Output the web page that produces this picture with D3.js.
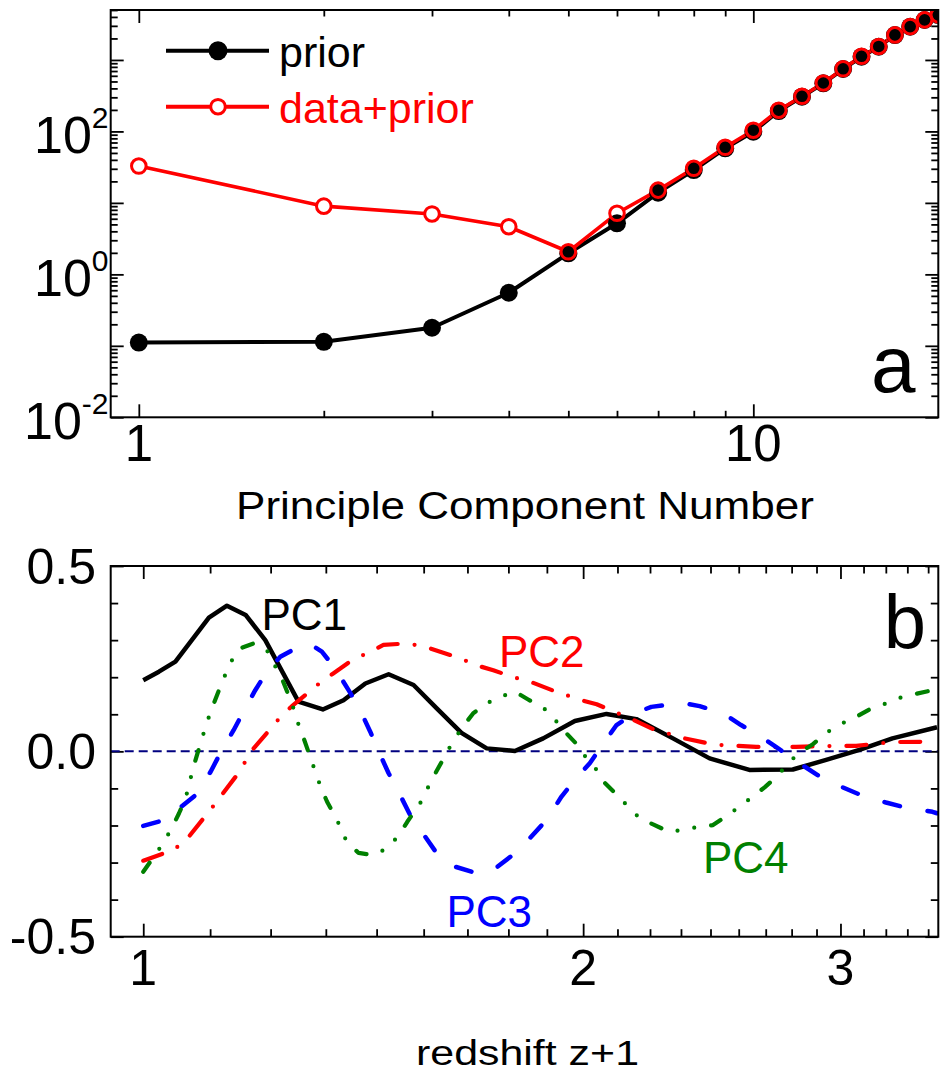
<!DOCTYPE html>
<html>
<head>
<meta charset="utf-8">
<script src="https://cdn.jsdelivr.net/npm/d3@7"></script>
<style>
  body { margin: 0; background: #fff; }
  svg { display: block; }
  text { font-family: "Liberation Sans", Arial, Helvetica, sans-serif; }
</style>
</head>
<body>
<svg id="chart" width="942" height="1078"></svg>
<script>
// ---------- panel a: eigenvalue spectrum ----------
const pcNumber = [1, 2, 3, 4, 5, 6, 7, 8, 9, 10, 11, 12, 13, 14, 15, 16, 17, 18, 19, 20];
const priorValues = [0.111, 0.114, 0.179, 0.553, 1.97, 5.18, 13.9, 28.8, 58, 99,
                     193, 306, 471, 747, 1110, 1531, 2232, 2917, 3622, 4253];
const dataPriorValues = [32.8, 9.0, 7.0, 4.64, 2.07, 7.15, 15.1, 30.5, 60, 104,
                         198, 310, 476, 752, 1125, 1545, 2240, 2930, 3640, 4280];
const seriesNamesA = ["prior", "data+prior"];
const yLabelsA = [{ value: 1e2, exp: "2" }, { value: 1e0, exp: "0" }, { value: 1e-2, exp: "-2" }];
const xLabelsA = [1, 10];

// ---------- panel b: principal components vs redshift ----------
const pc1Redshift = [1.000, 1.025, 1.052, 1.109, 1.141, 1.175, 1.212, 1.277, 1.327, 1.371,
                     1.419, 1.472, 1.531, 1.588, 1.651, 1.718, 1.796, 1.878, 1.974, 2.075,
                     2.175, 2.304, 2.441, 2.599, 2.783, 2.933, 3.091, 3.256, 3.493];
const pc1Weight = [0.192, 0.215, 0.242, 0.361, 0.393, 0.368, 0.300, 0.134, 0.113, 0.138,
                   0.183, 0.208, 0.179, 0.116, 0.050, 0.008, 0.001, 0.035, 0.082, 0.101,
                   0.087, 0.035, -0.019, -0.050, -0.049, -0.023, 0.004, 0.035, 0.065];

const pc2Redshift = [1.000, 1.049, 1.072, 1.116, 1.159, 1.190, 1.238, 1.264, 1.324, 1.349,
                     1.385, 1.460, 1.511, 1.554, 1.648, 1.687, 1.736, 1.791, 1.834, 1.913,
                     1.995, 2.043, 2.162, 2.233, 2.347, 2.460, 2.627, 2.717, 2.797, 2.902,
                     3.075, 3.255, 3.493];
const pc2Weight = [-0.295, -0.266, -0.235, -0.149, -0.064, 0.008, 0.087, 0.122, 0.188, 0.210,
                   0.242, 0.287, 0.291, 0.284, 0.251, 0.233, 0.219, 0.200, 0.190, 0.162,
                   0.138, 0.127, 0.086, 0.060, 0.035, 0.018, 0.012, 0.011, 0.012, 0.014,
                   0.015, 0.025, 0.026];

const pc3Redshift = [1.000, 1.030, 1.055, 1.086, 1.112, 1.129, 1.153, 1.171, 1.193, 1.215,
                     1.241, 1.277, 1.301, 1.325, 1.353, 1.382, 1.404, 1.430, 1.449, 1.472,
                     1.495, 1.523, 1.551, 1.588, 1.622, 1.691, 1.736, 1.796, 1.834, 1.888,
                     1.933, 1.974, 2.021, 2.064, 2.108, 2.169, 2.227, 2.335, 2.403, 2.493,
                     2.565, 2.648, 2.710, 2.812, 2.894, 3.010, 3.099, 3.223, 3.326, 3.468, 3.493];
const pc3Weight = [-0.201, -0.187, -0.158, -0.118, -0.055, -0.005, 0.057, 0.107, 0.165, 0.215,
                   0.255, 0.282, 0.289, 0.269, 0.224, 0.165, 0.120, 0.053, 0.000, -0.059,
                   -0.109, -0.172, -0.217, -0.275, -0.307, -0.329, -0.320, -0.275, -0.239, -0.185,
                   -0.122, -0.077, -0.032, 0.020, 0.071, 0.103, 0.120, 0.131, 0.122, 0.103,
                   0.071, 0.039, 0.012, -0.032, -0.064, -0.097, -0.118, -0.138, -0.152, -0.163, -0.167];

const pc4Redshift = [1.000, 1.017, 1.031, 1.045, 1.058, 1.069, 1.082, 1.091, 1.106, 1.116,
                     1.129, 1.147, 1.165, 1.190, 1.215, 1.229, 1.244, 1.264, 1.277, 1.289,
                     1.308, 1.322, 1.336, 1.357, 1.378, 1.404, 1.437, 1.468, 1.495, 1.516,
                     1.547, 1.576, 1.596, 1.617, 1.648, 1.682, 1.736, 1.796, 1.834, 1.888,
                     1.918, 1.940, 1.977, 2.011, 2.043, 2.069, 2.106, 2.147, 2.187, 2.233,
                     2.290, 2.340, 2.403, 2.454, 2.506, 2.559, 2.613, 2.662, 2.717, 2.768,
                     2.819, 2.874, 2.933, 3.010, 3.075, 3.143, 3.223, 3.308, 3.468, 3.493];
const pc4Weight = [-0.325, -0.284, -0.250, -0.210, -0.167, -0.127, -0.044, 0.004, 0.080, 0.123,
                   0.174, 0.239, 0.278, 0.291, 0.273, 0.235, 0.197, 0.129, 0.073, 0.030,
                   -0.042, -0.094, -0.136, -0.185, -0.244, -0.274, -0.280, -0.262, -0.228, -0.190,
                   -0.140, -0.076, -0.037, 0.004, 0.057, 0.103, 0.140, 0.161, 0.140, 0.111,
                   0.080, 0.056, 0.022, -0.019, -0.050, -0.085, -0.115, -0.149, -0.181, -0.197,
                   -0.217, -0.212, -0.203, -0.199, -0.175, -0.149, -0.122, -0.097, -0.066, -0.028,
                   -0.001, 0.020, 0.050, 0.076, 0.093, 0.114, 0.129, 0.147, 0.165, 0.168];

const pcNames = ["PC1", "PC2", "PC3", "PC4"];
const yLabelsB = ["0.5", "0.0", "-0.5"];
const xLabelsB = [1, 2, 3];

// ---------- layout ----------
const svg = d3.select("#chart");
const boxA = { left: 110.7, right: 938.3, top: 10, bottom: 417.3 };
const boxB = { left: 110.7, right: 938.3, top: 566, bottom: 936.7 };

const xA = d3.scaleLog().domain([0.9, 20]).range([boxA.left, boxA.right]);
const yA = d3.scaleLog().domain([0.01, 5000]).range([boxA.bottom, boxA.top]);
const xB = d3.scaleLog().domain([0.95, 3.5]).range([boxB.left, boxB.right]);
const yB = d3.scaleLinear().domain([-0.5, 0.5]).range([boxB.bottom, boxB.top]);

const defs = svg.append("defs");
defs.append("clipPath").attr("id", "clipA").append("rect")
  .attr("x", boxA.left).attr("y", boxA.top)
  .attr("width", boxA.right - boxA.left).attr("height", boxA.bottom - boxA.top);
defs.append("clipPath").attr("id", "clipB").append("rect")
  .attr("x", boxB.left).attr("y", boxB.top)
  .attr("width", boxB.right - boxB.left).attr("height", boxB.bottom - boxB.top);

// inward tick marks on all four sides of a panel
function drawTicks(box, xs, ys, xTicks, yTicks) {
  const g = svg.append("g");
  const put = (axisFn, scale, values, size, transform) => {
    const a = g.append("g").attr("transform", transform)
      .call(axisFn(scale).tickValues(values).tickSize(-size).tickFormat(""));
    a.select(".domain").remove();
    a.selectAll("line").attr("stroke", "#000").attr("stroke-width", 1.8);
  };
  [[xTicks.major, xTicks.majorLen], [xTicks.minor, xTicks.minorLen]].forEach(([vals, len]) => {
    put(d3.axisBottom, xs, vals, len, `translate(0,${box.bottom})`);
    put(d3.axisTop, xs, vals, len, `translate(0,${box.top})`);
  });
  [[yTicks.major, yTicks.majorLen], [yTicks.minor, yTicks.minorLen]].forEach(([vals, len]) => {
    put(d3.axisLeft, ys, vals, len, `translate(${box.left},0)`);
    put(d3.axisRight, ys, vals, len, `translate(${box.right},0)`);
  });
}

function drawFrame(box) {
  svg.append("rect")
    .attr("x", box.left).attr("y", box.top)
    .attr("width", box.right - box.left).attr("height", box.bottom - box.top)
    .attr("fill", "none").attr("stroke", "#000").attr("stroke-width", 2);
}

// ---------- panel a ----------
const isDecade = v => Math.abs(Math.log10(v) - Math.round(Math.log10(v))) < 1e-9;
const yTicksA = yA.ticks();
const xTicksA = xA.ticks().filter(v => v >= 1 && v <= 10);
drawTicks(boxA, xA, yA,
  { major: xTicksA.filter(isDecade), minor: xTicksA.filter(v => !isDecade(v)), majorLen: 13, minorLen: 6.5 },
  { major: yTicksA.filter(isDecade), minor: yTicksA.filter(v => !isDecade(v)), majorLen: 13, minorLen: 7 });

const plotA = svg.append("g").attr("clip-path", "url(#clipA)");
const lineA = d3.line().x(d => xA(d[0])).y(d => yA(d[1]));
const priorPts = pcNumber.map((n, i) => [n, priorValues[i]]);
const dataPriorPts = pcNumber.map((n, i) => [n, dataPriorValues[i]]);

plotA.append("path").datum(priorPts).attr("d", lineA)
  .attr("fill", "none").attr("stroke", "#000").attr("stroke-width", 4).attr("stroke-linejoin", "round");
plotA.append("path").datum(dataPriorPts).attr("d", lineA)
  .attr("fill", "none").attr("stroke", "#ff0000").attr("stroke-width", 3.6).attr("stroke-linejoin", "round");
// open markers keep their interiors clear of the connecting line
plotA.append("g").selectAll("circle").data(dataPriorPts).join("circle")
  .attr("cx", d => xA(d[0])).attr("cy", d => yA(d[1])).attr("r", 7.3).attr("fill", "#fff");
plotA.append("g").selectAll("circle").data(priorPts).join("circle")
  .attr("cx", d => xA(d[0])).attr("cy", d => yA(d[1])).attr("r", 9).attr("fill", "#000");
plotA.append("g").selectAll("circle").data(dataPriorPts).join("circle")
  .attr("cx", d => xA(d[0])).attr("cy", d => yA(d[1])).attr("r", 7.3)
  .attr("fill", "none").attr("stroke", "#ff0000").attr("stroke-width", 3);

drawFrame(boxA);

// legend
const legend = svg.append("g");
[[seriesNamesA[0], "#000", 50.7, true], [seriesNamesA[1], "#ff0000", 106.7, false]].forEach(([name, col, y, filled]) => {
  legend.append("line").attr("x1", 166).attr("x2", 269).attr("y1", y).attr("y2", y)
    .attr("stroke", col).attr("stroke-width", 4);
  legend.append("circle").attr("cx", 218).attr("cy", y).attr("r", filled ? 9.5 : 7.3)
    .attr("fill", filled ? col : "#fff").attr("stroke", filled ? "none" : col).attr("stroke-width", 3);
  legend.append("text").attr("x", 279).attr("y", y + 16).attr("font-size", 43).attr("fill", col).text(name);
});

// y labels with superscript exponents
yLabelsA.forEach(d => {
  const t = svg.append("text").attr("x", 108.5).attr("y", yA(d.value) + 21.3)
    .attr("text-anchor", "end").attr("fill", "#000");
  t.append("tspan").attr("font-size", 52).text("10");
  t.append("tspan").attr("font-size", 30).attr("dy", -25).text(d.exp);
});
xLabelsA.forEach(v => {
  svg.append("text").attr("x", xA(v)).attr("y", 461).attr("text-anchor", "middle")
    .attr("font-size", 51).text(v);
});
svg.append("text").attr("x", 525).attr("y", 519.3).attr("text-anchor", "middle")
  .attr("font-size", 39)
  .attr("textLength", 578).attr("lengthAdjust", "spacingAndGlyphs")
  .text("Principle Component Number");
svg.append("text").attr("x", 915.5).attr("y", 392).attr("text-anchor", "end")
  .attr("font-size", 80).text("a");

// ---------- panel b ----------
const xTicksB = [];
[1, 2, 3].forEach(n => d3.range(0, 9).forEach(k => {
  const v = n + k / 9;
  if (v >= 0.95 && v <= 3.5) xTicksB.push({ v, major: k === 0 });
}));
const yTicksB = d3.range(-5, 6).map(i => i / 10);
drawTicks(boxB, xB, yB,
  { major: xTicksB.filter(d => d.major).map(d => d.v), minor: xTicksB.filter(d => !d.major).map(d => d.v), majorLen: 13, minorLen: 7.5 },
  { major: [-0.5, 0, 0.5], minor: yTicksB.filter(v => Math.abs(v * 10 % 5) > 1e-9), majorLen: 13, minorLen: 7.5 });

const plotB = svg.append("g").attr("clip-path", "url(#clipB)");
plotB.append("line")
  .attr("x1", boxB.left).attr("x2", boxB.right).attr("y1", yB(0)).attr("y2", yB(0))
  .attr("stroke", "#000080").attr("stroke-width", 2).attr("stroke-dasharray", "9,5");

const lineB = d3.line().x(d => xB(d[0])).y(d => yB(d[1]));
const pcSeries = [
  { z: pc1Redshift, w: pc1Weight, color: "#000000", width: 4.5, dash: null },
  { z: pc2Redshift, w: pc2Weight, color: "#ff0000", width: 4.2, dash: "20,17,0,17" },
  { z: pc3Redshift, w: pc3Weight, color: "#0000ff", width: 4.5, dash: "16,28" },
  { z: pc4Redshift, w: pc4Weight, color: "#008000", width: 4.2, dash: "11,17,0,17,0,17" }
];
pcSeries.forEach(s => {
  plotB.append("path").datum(s.z.map((z, i) => [z, s.w[i]])).attr("d", lineB)
    .attr("fill", "none").attr("stroke", s.color).attr("stroke-width", s.width)
    .attr("stroke-linejoin", "round")
    .attr("stroke-linecap", s.dash ? "round" : "butt")
    .attr("stroke-dasharray", s.dash);
});

drawFrame(boxB);

// curve labels
const pcLabelPos = [[261.5, 630, "#000000"], [499, 666.7, "#ff0000"], [446.5, 926.7, "#0000ff"], [703, 873.3, "#008000"]];
pcNames.forEach((name, i) => {
  svg.append("text").attr("x", pcLabelPos[i][0]).attr("y", pcLabelPos[i][1])
    .attr("font-size", 44).attr("fill", pcLabelPos[i][2]).text(name);
});

yLabelsB.forEach(lbl => {
  svg.append("text").attr("x", 96).attr("y", yB(+lbl) + 17.5).attr("text-anchor", "end")
    .attr("font-size", 50).text(lbl);
});
xLabelsB.forEach(v => {
  svg.append("text").attr("x", xB(v)).attr("y", 985).attr("text-anchor", "middle")
    .attr("font-size", 50).text(v);
});
svg.append("text").attr("x", 527.5).attr("y", 1065).attr("text-anchor", "middle")
  .attr("font-size", 35).attr("textLength", 223).attr("lengthAdjust", "spacingAndGlyphs")
  .text("redshift z+1");
svg.append("text").attr("x", 926).attr("y", 648).attr("text-anchor", "end")
  .attr("font-size", 76).text("b");
</script>
</body>
</html>
